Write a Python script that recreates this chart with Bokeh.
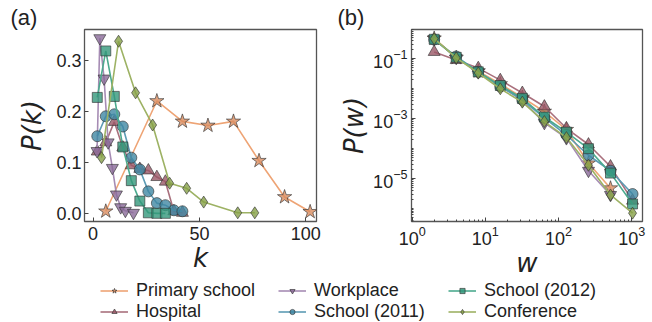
from bokeh.plotting import figure
from bokeh.layouts import column, row
from bokeh.models import Legend, LegendItem, FixedTicker, Range1d, PrintfTickFormatter
from bokeh.embed import file_html
from bokeh.resources import INLINE

FONT = "Liberation Sans"
MATH_FONT = "DejaVu Sans"

# ---------------- data: degree distribution P(k) ----------------
primary_k = [6, 30, 42, 54, 66, 78, 90, 102]
primary_pk = [0.005, 0.221, 0.181, 0.173, 0.181, 0.104, 0.033, 0.004]
hospital_k = [2, 6, 10, 14, 18, 22, 26, 30, 34, 38, 42]
hospital_pk = [0.122, 0.140, 0.180, 0.130, 0.095, 0.088, 0.085, 0.072, 0.063, 0.005, 0.002]
workplace_k = [1.9, 3.2, 5.2, 7.1, 9.1, 11.0, 13.0, 15.2, 19.0]
workplace_pk = [0.123, 0.344, 0.265, 0.140, 0.090, 0.038, 0.013, 0.006, 0.002]
school2011_k = [2, 6, 10, 14, 18, 22, 26, 30, 34, 38, 42]
school2011_pk = [0.152, 0.191, 0.195, 0.171, 0.110, 0.087, 0.044, 0.021, 0.017, 0.007, 0.005]
school2012_k = [2, 6, 10, 14, 18, 22, 26, 30, 34]
school2012_pk = [0.228, 0.319, 0.230, 0.131, 0.065, 0.025, 0.002, 0.001, 0.001]
conference_k = [4, 12, 20, 28, 36, 44, 52, 68, 76]
conference_pk = [0.110, 0.338, 0.237, 0.174, 0.060, 0.050, 0.023, 0.002, 0.002]

# ---------------- data: weight distribution P(w) ----------------
primary_w = [2, 4, 8, 16, 32, 64, 128, 256, 512]
primary_pw = [0.47, 0.107, 0.038, 0.0141, 0.0050, 0.0017, 4.2e-4, 3.2e-5, 4.7e-6]
hospital_w = [2, 4, 8, 16, 32, 64, 128, 256, 512, 1024]
hospital_pw = [0.166, 0.089, 0.048, 0.019, 0.0071, 0.0025, 4.7e-4, 1.35e-4, 2.5e-5, 1.8e-6]
workplace_w = [2, 4, 8, 16, 32, 64, 128, 256, 512]
workplace_pw = [0.45, 0.105, 0.035, 0.012, 0.0040, 7.1e-4, 2.2e-4, 1.8e-5, 2.8e-6]
school2011_w = [2, 4, 8, 16, 32, 64, 128, 256, 512, 1024]
school2011_pw = [0.43, 0.117, 0.036, 0.0117, 0.0042, 0.00105, 2.8e-4, 5.9e-5, 1.8e-5, 3.0e-6]
school2012_w = [2, 4, 8, 16, 32, 64, 128, 256, 512, 1024]
school2012_pw = [0.44, 0.11, 0.036, 0.0126, 0.0047, 0.00112, 3.5e-4, 9.8e-5, 1.5e-5, 1.4e-6]
conference_w = [2, 4, 8, 16, 32, 64, 128, 256, 512, 1024]
conference_pw = [0.46, 0.105, 0.033, 0.0098, 0.0035, 7.9e-4, 2.3e-4, 2.75e-5, 2.8e-6, 6.9e-7]

labels = ["Primary school", "Hospital", "Workplace", "School (2011)", "School (2012)", "Conference"]
markers = ["star", "triangle", "inverted_triangle", "circle", "square", "diamond"]
msizes = [15, 12, 12, 11, 10, 12]
line_colors = ["#eea475", "#a9707d", "#a68cb4", "#5c9bb4", "#4caa8e", "#9db264"]
fill_colors = ["#d98c5f", "#9a5866", "#8a6a98", "#3f87a3", "#33977a", "#86a046"]

k_series = [(primary_k, primary_pk), (hospital_k, hospital_pk), (workplace_k, workplace_pk),
            (school2011_k, school2011_pk), (school2012_k, school2012_pk), (conference_k, conference_pk)]
w_series = [(primary_w, primary_pw), (hospital_w, hospital_pw), (workplace_w, workplace_pw),
            (school2011_w, school2011_pw), (school2012_w, school2012_pw), (conference_w, conference_pw)]


def style(p, panel_label):
    p.outline_line_color = "#555555"
    p.outline_line_width = 1.3
    p.grid.visible = False
    p.background_fill_color = "white"
    p.border_fill_color = "white"
    for ax in (p.xaxis[0], p.yaxis[0]):
        ax.axis_line_color = None
        ax.major_tick_in = 4
        ax.major_tick_out = 0
        ax.minor_tick_in = 2
        ax.minor_tick_out = 0
        ax.major_tick_line_color = "#444444"
        ax.minor_tick_line_color = "#444444"
        ax.major_label_text_font = FONT
        ax.major_label_text_font_size = "18px"
        ax.major_label_text_color = "#222222"
        ax.axis_label_text_font = MATH_FONT
        ax.axis_label_text_font_size = "26px"
        ax.axis_label_text_font_style = "italic"
        ax.axis_label_text_color = "#222222"
    p.title.text = panel_label
    p.title.text_font = FONT
    p.title.text_font_size = "22px"
    p.title.text_font_style = "normal"
    p.title.text_color = "#222222"
    p.title.align = "left"
    p.title.offset = -74
    p.title.standoff = 0


# ---------------- panel (a) ----------------
p1 = figure(width=326, height=280, x_range=Range1d(-4, 105), y_range=Range1d(-0.015, 0.361),
            min_border_left=84, min_border_right=10, min_border_top=29, min_border_bottom=58,
            output_backend="svg", toolbar_location=None)
style(p1, "(a)")
p1.xaxis.ticker = FixedTicker(ticks=[0, 50, 100])
p1.yaxis.ticker = FixedTicker(ticks=[0.0, 0.1, 0.2, 0.3])
p1.yaxis.formatter = PrintfTickFormatter(format="%.1f")
p1.xaxis.major_label_standoff = 5
p1.yaxis.major_label_standoff = 3
p1.xaxis.axis_label = "k"
p1.yaxis.axis_label = "P(k)"
p1.xaxis.axis_label_standoff = 0
p1.yaxis.axis_label_standoff = 6
for (xs, ys), m, s, lc, fc in zip(k_series, markers, msizes, line_colors, fill_colors):
    p1.line(xs, ys, line_color=lc, line_width=1.6)
    p1.scatter(xs, ys, marker=m, size=s, fill_color=fc, fill_alpha=0.8,
               line_color="#333333", line_width=0.8, line_alpha=0.8)

# ---------------- panel (b) ----------------
p2 = figure(width=326, height=280, x_axis_type="log", y_axis_type="log",
            x_range=Range1d(0.98, 1400), y_range=Range1d(10 ** -6.44, 10 ** -0.03),
            min_border_left=85, min_border_right=10, min_border_top=29, min_border_bottom=58,
            output_backend="svg", toolbar_location=None)
style(p2, "(b)")
xminor = [m * 10 ** e for e in range(0, 4) for m in range(1, 10)]
yminor = [m * 10.0 ** e for e in range(-7, 0) for m in range(1, 10)]
p2.xaxis.ticker = FixedTicker(ticks=[1, 10, 100, 1000], minor_ticks=xminor)
p2.yaxis.ticker = FixedTicker(ticks=[1e-5, 1e-3, 1e-1], minor_ticks=yminor)
p2.xaxis.major_label_standoff = 4
p2.yaxis.major_label_standoff = 4
p2.xaxis.axis_label = "w"
p2.yaxis.axis_label = "P(w)"
p2.xaxis.axis_label_standoff = 0
p2.yaxis.axis_label_standoff = 1
for (xs, ys), m, s, lc, fc in zip(w_series, markers, msizes, line_colors, fill_colors):
    p2.line(xs, ys, line_color=lc, line_width=1.6)
    p2.scatter(xs, ys, marker=m, size=s, fill_color=fc, fill_alpha=0.8,
               line_color="#333333", line_width=0.8, line_alpha=0.8)

# ---------------- legend strip ----------------
p3 = figure(width=652, height=42, x_range=Range1d(-1000, -999), y_range=Range1d(-1000, -999),
            min_border_left=0, min_border_right=0, min_border_top=0, min_border_bottom=0,
            output_backend="svg", toolbar_location=None)
p3.axis.visible = False
p3.grid.visible = False
p3.outline_line_color = None
items = []
for (xs, ys), lab, m, lc, fc in zip(k_series, labels, markers, line_colors, fill_colors):
    l = p3.line(xs, ys, line_color=lc, line_width=1.6)
    s = p3.scatter(xs, ys, marker=m, size=8, fill_color=fc, fill_alpha=0.85,
                   line_color="#333333", line_width=0.8, line_alpha=0.8)
    items.append(LegendItem(label=lab, renderers=[l, s]))

col_x = [100, 278, 448]
for ci, x0 in enumerate(col_x):
    leg = Legend(items=items[2 * ci:2 * ci + 2], location=(x0, 0), orientation="vertical",
                 label_text_font=FONT, label_text_font_size="18px", label_text_color="#222222",
                 glyph_width=28, glyph_height=13, label_height=20, label_standoff=8,
                 spacing=0, padding=0, margin=0, border_line_color=None, background_fill_alpha=0)
    p3.add_layout(leg)

layout = column(row(p1, p2), p3)
open("out.html", "w").write(file_html(layout, INLINE))
